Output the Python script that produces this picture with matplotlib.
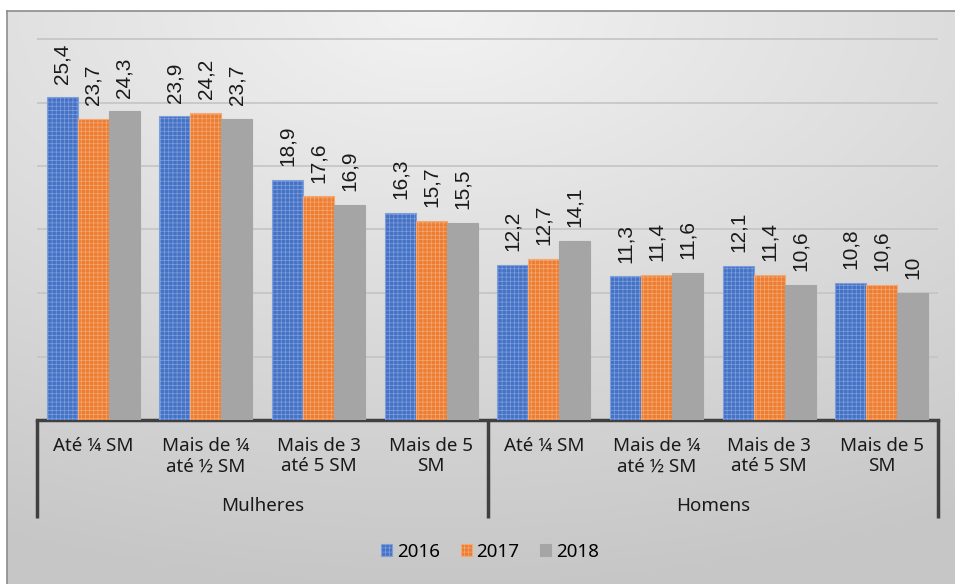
import numpy as np
import matplotlib
matplotlib.use("Agg")
import matplotlib.pyplot as plt

# data
categorias = ["Até ¼ SM", "Mais de ¼\naté ½ SM", "Mais de 3\naté 5 SM", "Mais de 5\nSM",
              "Até ¼ SM", "Mais de ¼\naté ½ SM", "Mais de 3\naté 5 SM", "Mais de 5\nSM"]
grupos = ["Mulheres", "Homens"]
anos = ["2016", "2017", "2018"]
v2016 = [25.4, 23.9, 18.9, 16.3, 12.2, 11.3, 12.1, 10.8]
v2017 = [23.7, 24.2, 17.6, 15.7, 12.7, 11.4, 11.4, 10.6]
v2018 = [24.3, 23.7, 16.9, 15.5, 14.1, 11.6, 10.6, 10.0]

cores = ["#4472C4", "#ED7D31", "#A5A5A5"]
hatchcor = ["#7f9fdc", "#f4a874", "#A5A5A5"]

plt.rcParams['hatch.linewidth'] = 0.5
W, H = 955, 584
fig = plt.figure(figsize=(W / 100, H / 100), dpi=100)

# background with soft gradient
bg = fig.add_axes([7 / W, 0, 1 - 7 / W, 1 - 11 / H])
yy, xx = np.mgrid[0:1:200j, 0:1:300j]
d = np.sqrt(((xx - 0.45) / 1.1) ** 2 + (yy / 1.0) ** 2)
d = np.clip(d, 0, 1)
g = 0.95 - 0.17 * d
bg.imshow(np.dstack([g, g, g]), aspect="auto", extent=[0, 1, 0, 1], origin="upper")
bg.set_xlim(0, 1)
bg.set_ylim(0, 1)
bg.axis("off")
fig.add_artist(plt.Line2D([7 / W, 7 / W], [0, 1 - 11 / H], color="#8c8c8c", lw=1.2))
fig.add_artist(plt.Line2D([7 / W, 1], [1 - 11 / H, 1 - 11 / H], color="#8c8c8c", lw=1.2))

# main plot area
ppu = 12.7
ytop = 30.5
left, right, base = 37, 938, 420
ax = fig.add_axes([left / W, (H - base) / H, (right - left) / W, ytop * ppu / H])
ax.patch.set_alpha(0)
ax.set_xlim(-0.5, len(categorias) - 0.5)
ax.set_ylim(0, ytop)

x = np.arange(len(categorias))
bw = 0.275
for i, (vals, nome) in enumerate(zip([v2016, v2017, v2018], anos)):
    pos = x + (i - 1) * bw
    ax.bar(pos, vals, bw, color=cores[i], edgecolor=hatchcor[i],
           hatch="++++" if i < 2 else None, linewidth=0.8, label=nome, zorder=3)
    for xp, v in zip(pos, vals):
        txt = ("%g" % v).replace(".", ",")
        ax.annotate(txt, (xp, v), xytext=(0, 10), textcoords="offset points",
                    rotation=90, ha="center", va="bottom", fontsize=15,
                    family="Liberation Sans", color="#1a1a1a")

ax.set_yticks(np.arange(5, 31, 5))
ax.yaxis.grid(True, color="#c4c4c4", lw=1.2, zorder=0)
ax.tick_params(axis="y", left=False, labelleft=False)
for s in ["top", "right", "left"]:
    ax.spines[s].set_visible(False)
ax.spines["bottom"].set_color("#404040")
ax.spines["bottom"].set_linewidth(2.5)

ax.set_xticks(x)
ax.set_xticklabels(categorias, fontsize=13.5, family="Noto Sans", color="#1a1a1a",
                   linespacing=1.15)
ax.tick_params(axis="x", length=0, pad=12.5)

# group separators and labels
ysep = -(518 - base) / ppu
for xs in [-0.5, 3.5, 7.5]:
    ax.plot([xs, xs], [0, ysep], color="#404040", lw=2.5, clip_on=False,
            solid_capstyle="butt")
for k, nome in enumerate(grupos):
    ax.annotate(nome, (1.5 + 4 * k, 0), xytext=(0, -(506 - base) * 0.72),
                textcoords="offset points", ha="center", va="center",
                fontsize=13.5, family="Noto Sans", color="#1a1a1a")

fig.legend(loc="center", bbox_to_anchor=(490 / W, 1 - 552 / H), ncol=3, frameon=False,
           handlelength=0.6, handleheight=0.6, handletextpad=0.25, columnspacing=1.1,
           prop={"family": "Noto Sans", "size": 13.5})

fig.savefig("out.png", dpi=100)
